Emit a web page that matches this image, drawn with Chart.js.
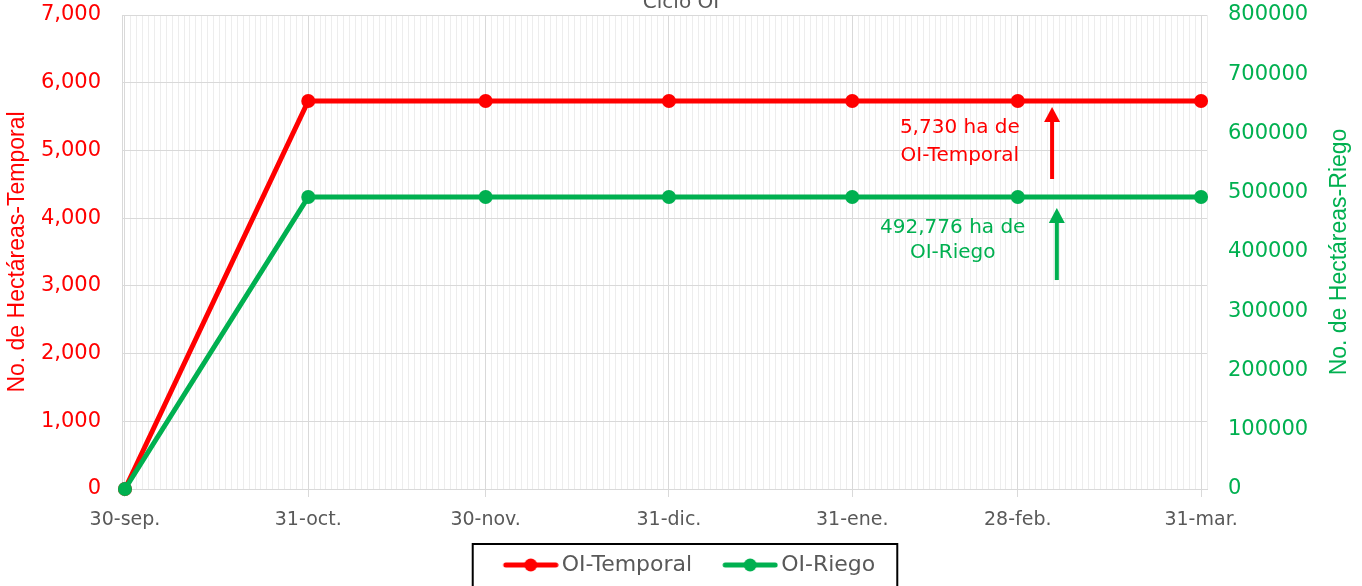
<!DOCTYPE html>
<html lang="es">
<head>
    <meta charset="UTF-8">
    <title>Ciclo OI</title>
    <script src="https://cdn.jsdelivr.net/npm/chart.js"></script>
    <style>
        body { margin: 0; background: #ffffff; }
        .marco { width: 1362px; height: 586px; overflow: hidden; position: relative; }
        #grafica { position: absolute; left: 0; top: -20px; }
    </style>
</head>
<body>
    <div class="marco">
        <canvas id="grafica" width="1362" height="606"></canvas>
    </div>

    <script>
        // Datos del ciclo OI
        const fechas = ["2022-09-30", "2022-10-31", "2022-11-30", "2022-12-31", "2023-01-31", "2023-02-28", "2023-03-31"];
        const etiquetas = ["30-sep.", "31-oct.", "30-nov.", "31-dic.", "31-ene.", "28-feb.", "31-mar."];
        const temporal = [0, 5730, 5730, 5730, 5730, 5730, 5730];
        const riego = [0, 492776, 492776, 492776, 492776, 492776, 492776];

        const rojo = "#ff0000";
        const verde = "#00b050";
        const gris = "#595959";

        // dias desde el inicio del ciclo
        const inicio = Date.parse(fechas[0]);
        const dias = fechas.map(f => Math.round((Date.parse(f) - inicio) / 86400000));

        // notas con flecha (posicion en dias / valor del eje izquierdo)
        const notas = [
            { texto: ["5,730 ha de", "OI-Temporal"], color: rojo, dia: 141.2, valores: [5331, 4918], flecha: { dia: 156.8, desde: 4578, hasta: 5641 } },
            { texto: ["492,776 ha de", "OI-Riego"], color: verde, dia: 140, valores: [3854, 3485], flecha: { dia: 157.6, desde: 3086, hasta: 4150 } }
        ];

        // simbolo de la leyenda: linea con punto, a la derecha de un lienzo de 80px
        function marcador(color) {
            const c = document.createElement("canvas");
            c.width = 80; c.height = 16;
            const g = c.getContext("2d");
            g.strokeStyle = color; g.lineWidth = 5; g.lineCap = "round";
            g.beginPath(); g.moveTo(27, 8); g.lineTo(77, 8); g.stroke();
            g.fillStyle = color;
            g.beginPath(); g.arc(52, 8, 6.5, 0, Math.PI * 2); g.fill();
            return c;
        }

        const extras = {
            id: "extras",
            afterDraw(chart) {
                const ctx = chart.ctx;
                const x = chart.scales.x, y = chart.scales.y, y1 = chart.scales.y1;

                // notas y flechas
                ctx.save();
                ctx.font = "20px 'DejaVu Sans'";
                ctx.textAlign = "center";
                ctx.textBaseline = "middle";
                notas.forEach(n => {
                    ctx.fillStyle = n.color;
                    n.texto.forEach((t, i) => ctx.fillText(t, x.getPixelForValue(n.dia), y.getPixelForValue(n.valores[i])));
                    const fx = x.getPixelForValue(n.flecha.dia);
                    const y0 = y.getPixelForValue(n.flecha.desde);
                    const y1p = y.getPixelForValue(n.flecha.hasta);
                    ctx.strokeStyle = n.color; ctx.lineWidth = 4;
                    ctx.beginPath(); ctx.moveTo(fx, y0); ctx.lineTo(fx, y1p + 12); ctx.stroke();
                    ctx.beginPath(); ctx.moveTo(fx, y1p); ctx.lineTo(fx - 8, y1p + 15); ctx.lineTo(fx + 8, y1p + 15); ctx.closePath(); ctx.fill();
                });
                ctx.restore();

                // titulo del eje derecho (de abajo hacia arriba)
                ctx.save();
                ctx.font = "23px 'Liberation Sans'";
                ctx.fillStyle = verde;
                ctx.textAlign = "center";
                ctx.textBaseline = "middle";
                ctx.translate(y1.right - 22, (y1.top + y1.bottom) / 2);
                ctx.rotate(-Math.PI / 2);
                ctx.fillText("No. de Hectáreas-Riego", 0, 0);
                ctx.restore();

                // recuadro de la leyenda
                const cajas = chart.legend.legendHitBoxes;
                if (cajas && cajas.length) {
                    const ult = cajas[cajas.length - 1];
                    const izq = cajas[0].left - 14;
                    ctx.save();
                    ctx.strokeStyle = "#000000"; ctx.lineWidth = 2;
                    ctx.strokeRect(izq, cajas[0].top - 10, ult.left + ult.width + 22 - izq, 80);
                    ctx.restore();
                }
            }
        };

        new Chart(document.getElementById("grafica"), {
            type: "line",
            data: {
                datasets: [
                    {
                        label: "OI-Temporal",
                        data: dias.map((d, i) => ({ x: d, y: temporal[i] })),
                        yAxisID: "y",
                        borderColor: rojo, backgroundColor: rojo,
                        borderWidth: 5, pointRadius: 7, pointBorderWidth: 0,
                        pointBackgroundColor: rojo, clip: false, order: 1
                    },
                    {
                        label: "OI-Riego",
                        data: dias.map((d, i) => ({ x: d, y: riego[i] })),
                        yAxisID: "y1",
                        borderColor: verde, backgroundColor: verde,
                        borderWidth: 5, pointRadius: 7, pointBorderWidth: 0,
                        pointBackgroundColor: verde, clip: false, order: 0
                    }
                ]
            },
            options: {
                responsive: false,
                animation: false,
                devicePixelRatio: 1,
                layout: { padding: 0 },
                plugins: {
                    title: {
                        display: true, text: "Ciclo OI", color: gris,
                        font: { family: "DejaVu Sans", size: 20, weight: "normal" },
                        padding: { top: 11, bottom: 0 }
                    },
                    legend: {
                        position: "bottom",
                        labels: {
                            usePointStyle: true, pointStyleWidth: 64, padding: 14, color: gris,
                            font: { family: "DejaVu Sans", size: 22 },
                            generateLabels: chart => chart.data.datasets.map((ds, i) => ({
                                text: ds.label, fillStyle: ds.borderColor, strokeStyle: ds.borderColor,
                                lineWidth: 0, pointStyle: marcador(ds.borderColor), fontColor: gris,
                                hidden: false, datasetIndex: i
                            }))
                        }
                    },
                    tooltip: { enabled: false }
                },
                scales: {
                    x: {
                        type: "linear", position: "bottom", min: -0.5, max: 183,
                        afterBuildTicks: s => { s.ticks = dias.map(v => ({ value: v })); },
                        afterFit: s => { s.height = 51; },
                        ticks: {
                            autoSkip: false, maxRotation: 0, color: gris, padding: 12,
                            font: { family: "DejaVu Sans", size: 19 },
                            callback: v => etiquetas[dias.indexOf(v)]
                        },
                        grid: { color: "#d9d9d9", tickLength: 8 },
                        border: { color: "#d9d9d9" }
                    },
                    x2: {
                        type: "linear", position: "top", min: -0.5, max: 183,
                        afterBuildTicks: s => {
                            const t = [];
                            for (let d = 0; d <= 183; d++) t.push({ value: d });
                            s.ticks = t;
                        },
                        afterFit: s => { s.height = 0; },
                        ticks: { display: false },
                        grid: {
                            drawTicks: false,
                            color: c => dias.includes(c.tick.value) ? "rgba(0,0,0,0)" : "#ededed"
                        },
                        border: { display: false }
                    },
                    y: {
                        position: "left", min: 0, max: 7000,
                        afterFit: s => { s.width = 122; },
                        ticks: {
                            stepSize: 1000, color: rojo, padding: 21,
                            font: { family: "DejaVu Sans", size: 21 },
                            callback: v => v.toLocaleString("en-US")
                        },
                        grid: { color: "#d9d9d9", drawTicks: false },
                        border: { color: "#d9d9d9" },
                        title: {
                            display: true, text: "No. de Hectáreas-Temporal", color: rojo,
                            font: { family: "Liberation Sans", size: 23 },
                            padding: { top: 4, bottom: 0 }
                        }
                    },
                    y1: {
                        position: "right", min: 0, max: 800000,
                        afterFit: s => { s.width = 155; },
                        ticks: {
                            stepSize: 100000, color: verde, padding: 21,
                            font: { family: "DejaVu Sans", size: 21 },
                            callback: v => String(v)
                        },
                        grid: { drawOnChartArea: false, drawTicks: false },
                        border: { display: false }
                    }
                }
            },
            plugins: [extras]
        });
    </script>
</body>
</html>
